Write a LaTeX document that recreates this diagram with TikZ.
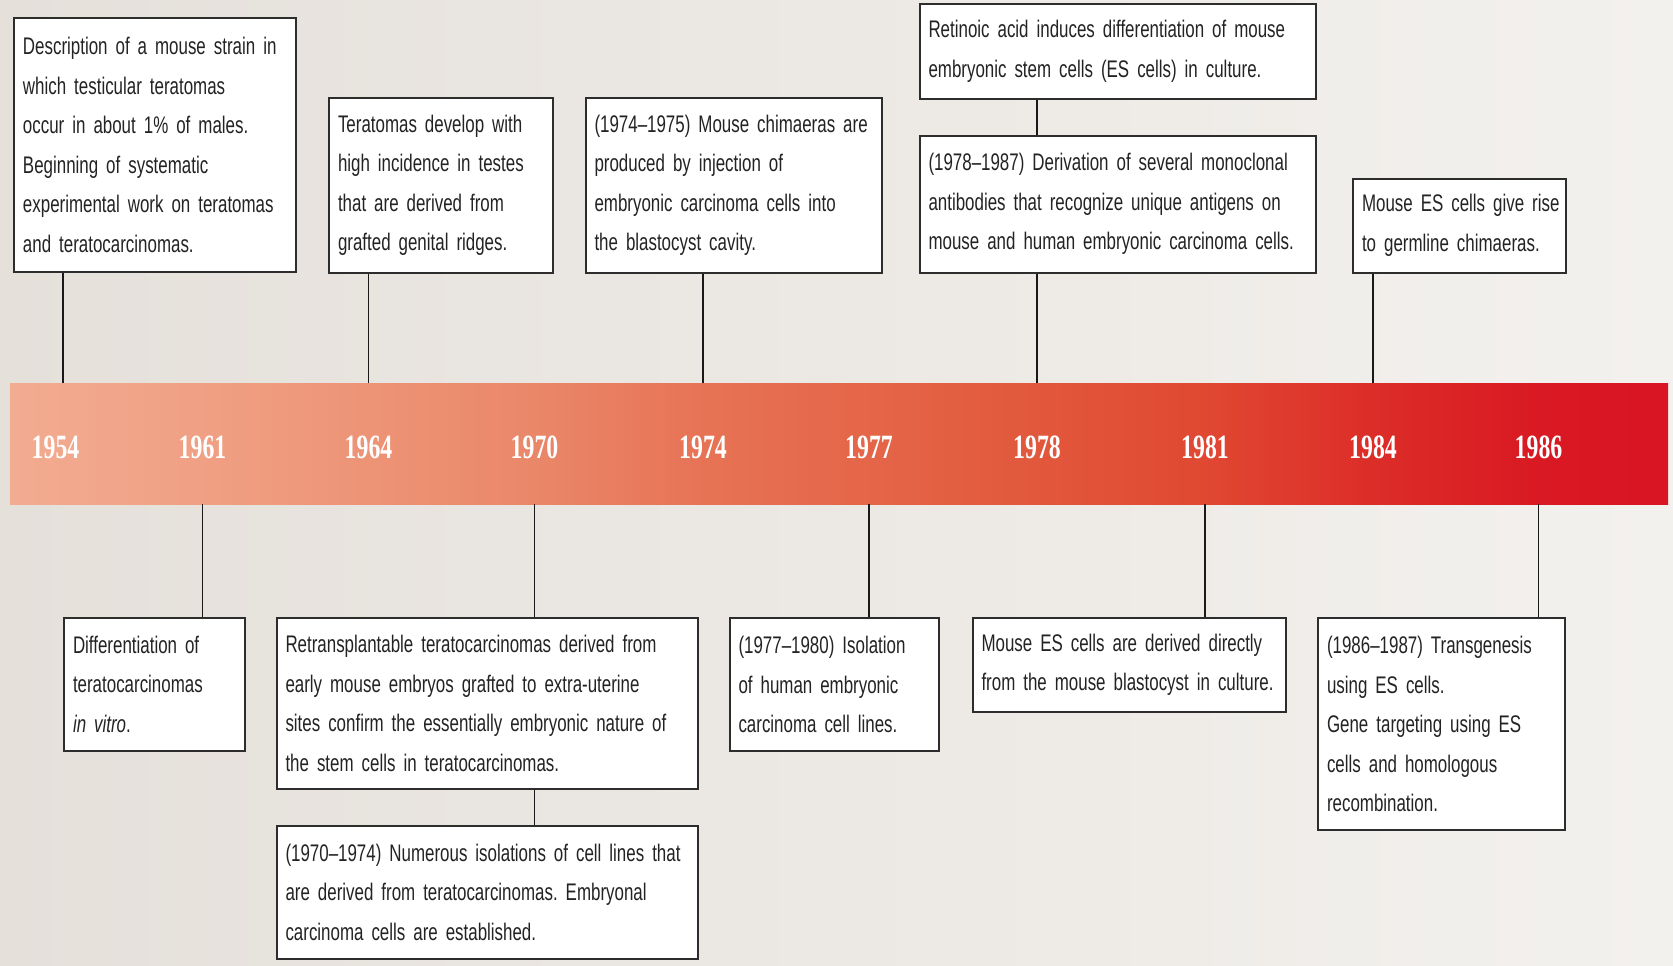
\documentclass[tikz,border=0pt]{standalone}
\usepackage{fontspec}
\setmainfont{Liberation Sans}
\newfontfamily\bodyfont{Liberation Sans}[FakeStretch=0.705, Ligatures=TeX]
\newfontfamily\yearfont{Liberation Serif}[FakeStretch=0.7]
\definecolor{bgL}{RGB}{229,224,218}
\definecolor{bgR}{RGB}{243,241,238}
\definecolor{boxc}{RGB}{45,45,45}
\definecolor{txt}{RGB}{35,35,35}
\definecolor{b0}{RGB}{242,172,145}
\definecolor{b1}{RGB}{240,160,132}
\definecolor{b2}{RGB}{234,135,105}
\definecolor{b3}{RGB}{231,115,85}
\definecolor{b4}{RGB}{226,88,60}
\definecolor{b5}{RGB}{224,72,50}
\definecolor{b6}{RGB}{220,45,40}
\definecolor{b7}{RGB}{217,25,35}
\definecolor{b8}{RGB}{217,20,35}
\pgfdeclarehorizontalshading{bandshade}{100bp}{color(0bp)=(b0); color(25bp)=(b0); color(30.7bp)=(b1); color(40.8bp)=(b2); color(45.9bp)=(b3); color(55.9bp)=(b4); color(61bp)=(b5); color(66.1bp)=(b6); color(71.1bp)=(b7); color(75bp)=(b8); color(100bp)=(b8)}
\newcommand{\tline}[1]{\mbox{#1}}
\newcommand{\bodyset}{\bodyfont\fontsize{24}{39.5}\selectfont\frenchspacing\spaceskip=2.8pt\relax\xspaceskip=2.8pt\relax}
\tikzset{
  evt/.style={draw=boxc, line width=2pt, fill=white, anchor=north west,
    inner xsep=9pt, inner ysep=0pt, align=left, text=txt,
    font=\bodyset},
  yearlbl/.style={text=white, inner sep=0pt,
    font=\yearfont\bfseries\fontsize{34}{34}\selectfont},
  conn/.style={draw=black!90, line width=1.5pt},
}
\begin{document}
\begin{tikzpicture}[x=1pt,y=-1pt]
\useasboundingbox (0,0) rectangle (1673,966);
\shade[left color=bgL, right color=bgR] (0,0) rectangle (1673,966);
% band
\node[shading=bandshade, minimum width=1658pt, minimum height=121pt, inner sep=0pt, anchor=north west] (band) at (10,383) {};
% years
\node[yearlbl] (y1954) at (55.5,447) {1954};
\node[yearlbl] (y1961) at (202.5,447) {1961};
\node[yearlbl] (y1964) at (368.5,447) {1964};
\node[yearlbl] (y1970) at (534.5,447) {1970};
\node[yearlbl] (y1974) at (703,447) {1974};
\node[yearlbl] (y1977) at (869,447) {1977};
\node[yearlbl] (y1978) at (1037,447) {1978};
\node[yearlbl] (y1981) at (1205,447) {1981};
\node[yearlbl] (y1984) at (1373,447) {1984};
\node[yearlbl] (y1986) at (1538.5,447) {1986};
% top events
\node[evt, minimum width=282pt, minimum height=254pt, text width=264pt] (n1954) at (13,17)
 {\tline{Description of a mouse strain in}\\\tline{which testicular teratomas}\\\tline{occur in about 1\% of males.}\\\tline{Beginning of systematic}\\\tline{experimental work on teratomas}\\\tline{and teratocarcinomas.}};
\node[evt, minimum width=223.5pt, minimum height=174.5pt, text width=205.5pt] (n1964) at (328,97)
 {\tline{Teratomas develop with}\\\tline{high incidence in testes}\\\tline{that are derived from}\\\tline{grafted genital ridges.}};
\node[evt, minimum width=296pt, minimum height=174.5pt, text width=278pt] (n1974) at (584.5,97)
 {\tline{(1974\textendash1975) Mouse chimaeras are}\\\tline{produced by injection of}\\\tline{embryonic carcinoma cells into}\\\tline{the blastocyst cavity.}};
\node[evt, minimum width=396.5pt, minimum height=94pt, text width=378.5pt] (n1978a) at (918.5,3.5)
 {\tline{Retinoic acid induces differentiation of mouse}\\\tline{embryonic stem cells (ES cells) in culture.}};
\node[evt, minimum width=396.5pt, minimum height=136.5pt, text width=378.5pt] (n1978b) at (918.5,135)
 {\tline{(1978\textendash1987) Derivation of several monoclonal}\\\tline{antibodies that recognize unique antigens on}\\\tline{mouse and human embryonic carcinoma cells.}};
\node[evt, minimum width=213pt, minimum height=94pt, text width=195pt] (n1984) at (1352,177.5)
 {\tline{Mouse ES cells give rise}\\\tline{to germline chimaeras.}};
% bottom events
\node[evt, minimum width=180.5pt, minimum height=132.5pt, text width=162.5pt] (n1961) at (63,617)
 {\tline{Differentiation of}\\\tline{teratocarcinomas}\\\tline{\textit{in vitro}.}};
\node[evt, minimum width=421pt, minimum height=170.5pt, text width=403pt] (n1970a) at (275.5,617)
 {\tline{Retransplantable teratocarcinomas derived from}\\\tline{early mouse embryos grafted to extra-uterine}\\\tline{sites confirm the essentially embryonic nature of}\\\tline{the stem cells in teratocarcinomas.}};
\node[evt, minimum width=421pt, minimum height=132.5pt, text width=403pt] (n1970b) at (275.5,825)
 {\tline{(1970\textendash1974) Numerous isolations of cell lines that}\\\tline{are derived from teratocarcinomas. Embryonal}\\\tline{carcinoma cells are established.}};
\node[evt, minimum width=209pt, minimum height=133pt, text width=191pt] (n1977) at (728.5,617)
 {\tline{(1977\textendash1980) Isolation}\\\tline{of human embryonic}\\\tline{carcinoma cell lines.}};
\node[evt, minimum width=313pt, minimum height=94pt, text width=295pt] (n1981) at (971.5,617)
 {\tline{Mouse ES cells are derived directly}\\\tline{from the mouse blastocyst in culture.}};
\node[evt, minimum width=247pt, minimum height=212pt, text width=229pt] (n1986) at (1317,617)
 {\tline{(1986\textendash1987) Transgenesis}\\\tline{using ES cells.}\\\tline{Gene targeting using ES}\\\tline{cells and homologous}\\\tline{recombination.}};
% connectors
\draw[conn] ([xshift=7.5pt]y1954 |- band.north) -- ([xshift=7.5pt]y1954 |- n1954.south);
\draw[conn] (y1964 |- band.north) -- (y1964 |- n1964.south);
\draw[conn] (y1974 |- band.north) -- (y1974 |- n1974.south);
\draw[conn] (y1978 |- band.north) -- (y1978 |- n1978b.south);
\draw[conn] (y1978 |- n1978b.north) -- (y1978 |- n1978a.south);
\draw[conn] (y1984 |- band.north) -- (y1984 |- n1984.south);
\draw[conn] (y1961 |- band.south) -- (y1961 |- n1961.north);
\draw[conn] (y1970 |- band.south) -- (y1970 |- n1970a.north);
\draw[conn] (y1970 |- n1970a.south) -- (y1970 |- n1970b.north);
\draw[conn] (y1977 |- band.south) -- (y1977 |- n1977.north);
\draw[conn] (y1981 |- band.south) -- (y1981 |- n1981.north);
\draw[conn] (y1986 |- band.south) -- (y1986 |- n1986.north);
\end{tikzpicture}
\end{document}
